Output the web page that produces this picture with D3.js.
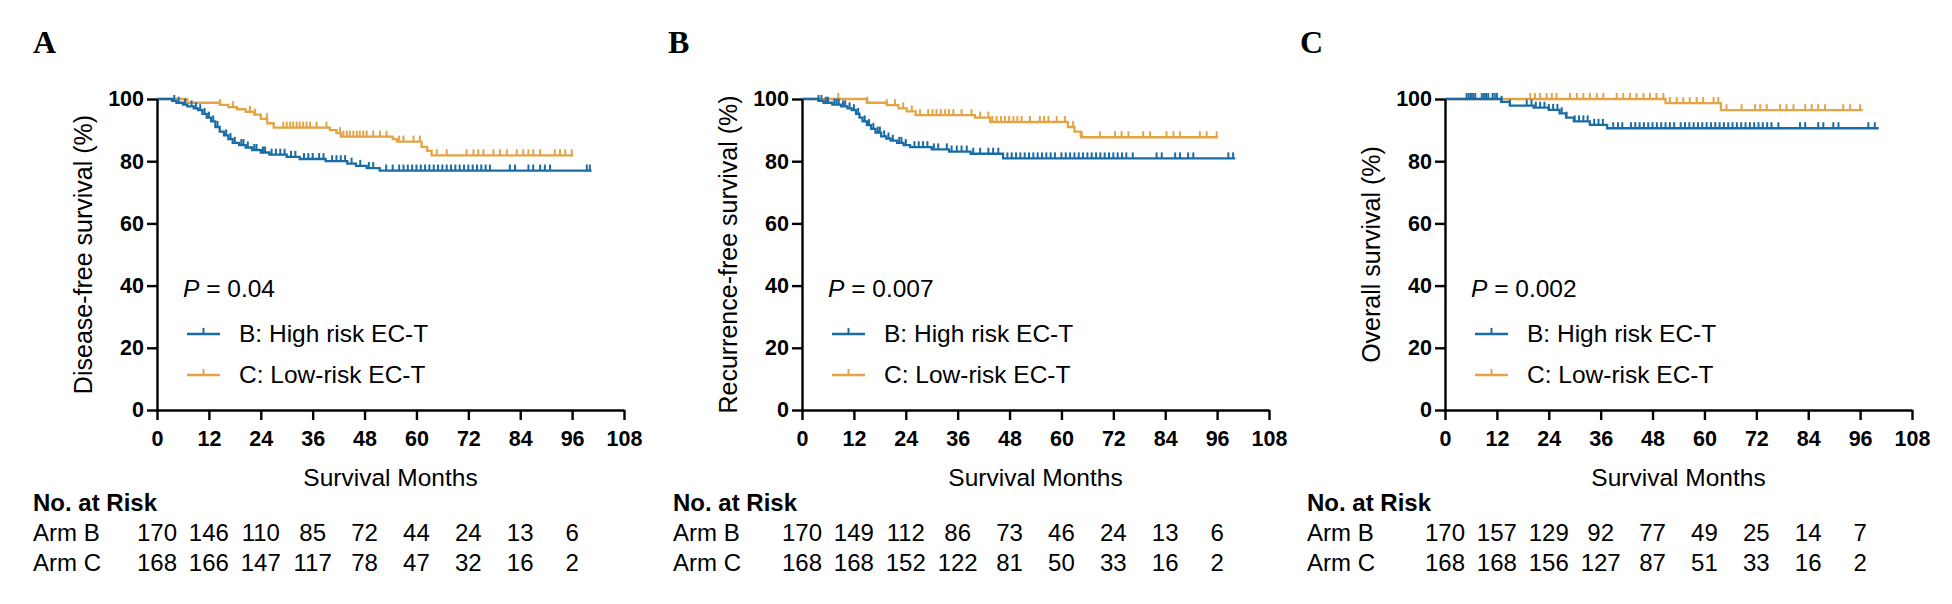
<!DOCTYPE html>
<html>
<head>
<meta charset="utf-8">
<script src="https://cdn.jsdelivr.net/npm/d3@7"></script>
<style>
  body { margin: 0; background: #ffffff; }
  svg { display: block; }
</style>
</head>
<body>
<svg id="chart" width="1952" height="604"></svg>
<script>
// ---------------- DATA ----------------
const panelLetters = ["A", "B", "C"];
const yTitles = ["Disease-free survival (%)", "Recurrence-free survival (%)", "Overall survival (%)"];
const pValues = ["0.04", "0.007", "0.002"];
const seriesNames = ["B: High risk EC-T", "C: Low-risk EC-T"];
const xTickMonths = [0, 12, 24, 36, 48, 60, 72, 84, 96, 108];
const yTickValues = [0, 20, 40, 60, 80, 100];
const xTitle = "Survival Months";
const riskTitle = "No. at Risk";
const riskRowLabels = ["Arm B", "Arm C"];
const riskMonths = [0, 12, 24, 36, 48, 60, 72, 84, 96];

// Panel A: disease-free survival
const dfsB_time = [0, 3.5, 4.5, 6, 7, 8.5, 9.5, 10.5, 11.5, 12.5, 13.5, 14.5, 15.5, 16.5, 17.5, 19, 20.5, 22, 24, 26, 30, 33, 39, 44, 46, 48.5, 51.5];
const dfsB_surv = [100, 99.4, 98.8, 98.2, 97.6, 97.0, 96.4, 95.2, 94.0, 92.8, 91.0, 89.5, 88.3, 87.1, 85.9, 85.2, 84.4, 83.6, 82.8, 82.1, 81.4, 80.7, 80.0, 79.2, 78.5, 77.8, 77.0];
const dfsB_end = 100.5;
const dfsB_cens = [4, 5, 6.5, 8, 9, 10, 11, 12, 13, 14, 16, 17, 18, 19.5, 20, 21, 22.5, 23, 24.5, 25, 26.5, 27.5, 28.5, 29.5, 31, 32, 34, 35, 36, 37.5, 38.5, 40.5, 41.5, 42.5, 43.5, 45, 47, 49, 50, 53, 54.5, 56, 57, 58, 59, 60, 61, 62, 63, 64, 65, 66, 67, 68, 69, 70, 71, 72, 73, 74, 75, 76, 77, 81.6, 82.8, 85.9, 87, 88.6, 89.7, 90.9, 99.4, 100.1];

const dfsC_time = [0, 7, 14.5, 16.5, 18.5, 20.5, 22.5, 24, 25.5, 27, 40, 41.5, 42.5, 54.5, 55.5, 61.2, 62.5, 63.5];
const dfsC_surv = [100, 98.8, 98.1, 97.4, 96.7, 95.9, 95.0, 93.6, 92.2, 90.8, 90.0, 89.0, 87.9, 87.1, 86.3, 84.6, 83.3, 81.9];
const dfsC_end = 96.3;
const dfsC_cens = [14.6, 17.6, 21.5, 22.7, 25.4, 29.2, 30, 30.8, 31.5, 32.3, 33, 33.8, 34.6, 35.4, 36.9, 39.2, 42.3, 43.1, 43.9, 44.6, 45.4, 46.2, 46.9, 47.7, 48.5, 50, 51.6, 53.1, 56, 57, 59.3, 60.8, 64.7, 67, 71.6, 73.2, 74.3, 75.5, 77.8, 79.3, 80.9, 83.2, 84.7, 85.9, 87, 88.6, 92, 93.2, 94.4, 95.9];

// Panel B: recurrence-free survival
const rfsB_time = [0, 3.8, 5, 7, 9, 10.5, 11.5, 12.5, 13.3, 14, 15, 16, 17, 18.3, 19.5, 20.5, 22, 23.5, 25, 30, 34, 39, 46.5];
const rfsB_surv = [100, 99.4, 98.8, 98.2, 97.6, 97.0, 96.4, 95.2, 94.0, 92.8, 91.6, 90.4, 89.2, 88.0, 87.3, 86.6, 85.9, 85.2, 84.5, 83.8, 83.1, 82.4, 80.9];
const rfsB_end = 100.2;
const rfsB_cens = [3.8, 4.5, 5.5, 6, 7.5, 8, 8.5, 9.5, 10, 11, 12, 13, 14.5, 15.5, 16.5, 17.5, 18, 19, 20, 21, 22.5, 23, 24, 26, 27, 28, 29, 30.5, 31.5, 33.5, 34.6, 35.8, 36.9, 38.1, 39.6, 41.2, 43.1, 44.2, 45.4, 47.5, 48.5, 49.5, 50.5, 51.5, 52.5, 53.5, 54.5, 55.5, 56.5, 57.5, 58.5, 60, 61, 62, 63, 64, 65, 66, 67, 68, 69, 70, 71, 72, 73, 74, 75, 76.5, 82, 83.2, 86.3, 87.4, 89.3, 90.5, 98.6, 99.7];

const rfsC_time = [0, 15, 19.6, 22.3, 24.2, 26.3, 40, 43.5, 61.5, 63, 64.5];
const rfsC_surv = [100, 98.8, 98.0, 97.0, 96.0, 94.8, 94.0, 92.6, 91.0, 89.5, 87.7];
const rfsC_end = 96.2;
const rfsC_cens = [8.4, 15.1, 19.6, 21.5, 23.4, 25.4, 27.3, 29.2, 30.2, 31.1, 32.1, 33.1, 34, 35, 36.9, 39.2, 41.2, 43.1, 44, 45, 46, 46.9, 47.9, 48.9, 49.8, 50.8, 52.7, 55, 56, 57, 58.9, 60.8, 62.7, 64.7, 68.9, 72.4, 73.9, 75.5, 78.9, 80.5, 84.3, 85.9, 87.4, 92, 93.6, 95.9];

// Panel C: overall survival
const osB_time = [0, 13, 15, 20.5, 24, 26.5, 28, 29.8, 33.5, 37.5];
const osB_surv = [100, 99.1, 97.9, 97.2, 96.5, 95.4, 94.0, 92.8, 91.7, 90.6];
const osB_end = 100.3;
const osB_cens = [5, 5.5, 6, 6.5, 7, 8.5, 9, 9.5, 10, 11, 11.5, 12, 13.1, 15, 18.9, 20, 21, 22, 23, 24, 25, 26, 27, 28.1, 30, 31, 32, 33, 34.5, 35.5, 36.5, 38.9, 40, 41, 43, 44, 45, 46, 47, 48, 49, 50, 51, 52, 53, 54.5, 55.5, 56.5, 57.5, 58.5, 59.5, 60.5, 61.5, 62.5, 63.5, 64.5, 65.5, 66.5, 67.5, 68.5, 69.5, 70.5, 71.5, 72.5, 73.5, 74.5, 75.5, 77.1, 82.1, 83.3, 86.3, 87.5, 89.8, 91, 97.9, 99.4];

const osC_time = [0, 51, 63.8];
const osC_surv = [100, 98.7, 96.4];
const osC_end = 96.6;
const osC_cens = [19.7, 20.8, 22, 23.5, 24.7, 25.8, 28.9, 30.5, 32, 33.5, 35.1, 36.6, 39.7, 41.2, 42.8, 44.3, 45.9, 47.4, 48.9, 50.5, 52, 53.6, 55.1, 56.6, 58.2, 59.7, 62.1, 63.2, 65.1, 68.6, 71.7, 72.9, 74.4, 77.5, 79, 80.6, 83.3, 84.8, 86.3, 87.9, 92.1, 93.7, 96];

// Numbers at risk
const dfsRiskB = [170, 146, 110, 85, 72, 44, 24, 13, 6];
const dfsRiskC = [168, 166, 147, 117, 78, 47, 32, 16, 2];
const rfsRiskB = [170, 149, 112, 86, 73, 46, 24, 13, 6];
const rfsRiskC = [168, 168, 152, 122, 81, 50, 33, 16, 2];
const osRiskB = [170, 157, 129, 92, 77, 49, 25, 14, 7];
const osRiskC = [168, 168, 156, 127, 87, 51, 33, 16, 2];

// ---------------- LAYOUT / STYLE ----------------
const colorB = "#1a6ca6";
const colorC = "#e3a446";
const sans = "'Liberation Sans', Arial, Helvetica, sans-serif";
const serif = "'Liberation Serif', 'Times New Roman', serif";

const plotW = 467, yTop = 99, yBot = 410;
const panels = [
  { axisX: 157, letterX: 33, tableX: 33,
    B: { time: dfsB_time, surv: dfsB_surv, end: dfsB_end, cens: dfsB_cens },
    C: { time: dfsC_time, surv: dfsC_surv, end: dfsC_end, cens: dfsC_cens },
    risk: [dfsRiskB, dfsRiskC] },
  { axisX: 802, letterX: 668, tableX: 673,
    B: { time: rfsB_time, surv: rfsB_surv, end: rfsB_end, cens: rfsB_cens },
    C: { time: rfsC_time, surv: rfsC_surv, end: rfsC_end, cens: rfsC_cens },
    risk: [rfsRiskB, rfsRiskC] },
  { axisX: 1445, letterX: 1300, tableX: 1307,
    B: { time: osB_time, surv: osB_surv, end: osB_end, cens: osB_cens },
    C: { time: osC_time, surv: osC_surv, end: osC_end, cens: osC_cens },
    risk: [osRiskB, osRiskC] }
];

const svg = d3.select("#chart");
svg.append("rect").attr("width", 1952).attr("height", 604).attr("fill", "#fff");

panels.forEach((p, pi) => {
  const g = svg.append("g");
  const x = d3.scaleLinear().domain([0, 108]).range([p.axisX, p.axisX + plotW]);
  const y = d3.scaleLinear().domain([0, 100]).range([yBot, yTop]);

  // panel letter
  g.append("text").attr("x", p.letterX).attr("y", 53)
    .attr("font-family", serif).attr("font-weight", "bold").attr("font-size", 32)
    .attr("fill", "#000").text(panelLetters[pi]);

  // curves (C first, then B on top)
  const line = d3.line().x(d => x(d[0])).y(d => y(d[1])).curve(d3.curveStepAfter);
  [["C", colorC], ["B", colorB]].forEach(([key, col]) => {
    const s = p[key];
    const pts = s.time.map((t, i) => [t, s.surv[i]]);
    pts.push([s.end, s.surv[s.surv.length - 1]]);
    g.append("path").attr("d", line(pts)).attr("fill", "none")
      .attr("stroke", col).attr("stroke-width", 2.3);
    const survAt = t => s.surv[Math.max(0, d3.bisectRight(s.time, t) - 1)];
    g.selectAll(null).data(s.cens).enter().append("line")
      .attr("x1", d => x(d)).attr("x2", d => x(d))
      .attr("y1", d => y(survAt(d)))
      .attr("y2", d => y(survAt(d)) - 6)
      .attr("stroke", col).attr("stroke-width", 2);
  });

  // axes
  const yAxis = d3.axisLeft(y).tickValues(yTickValues).tickSize(10).tickPadding(3).tickSizeOuter(0);
  const xAxis = d3.axisBottom(x).tickValues(xTickMonths).tickSize(10).tickPadding(11).tickSizeOuter(0);
  const ya = g.append("g").attr("transform", `translate(${p.axisX},0)`).call(yAxis);
  const xa = g.append("g").attr("transform", `translate(0,${yBot})`).call(xAxis);
  [ya, xa].forEach(a => {
    a.selectAll("path, line").attr("stroke", "#000").attr("stroke-width", 2.4);
    a.selectAll("text").attr("font-family", sans).attr("font-weight", "bold")
      .attr("font-size", 21.5).attr("fill", "#000");
  });

  // y title
  g.append("text")
    .attr("transform", `translate(${p.axisX - 74},${(yTop + yBot) / 2}) rotate(-90)`)
    .attr("text-anchor", "middle").attr("dy", "0.35em")
    .attr("font-family", sans).attr("font-size", 25).attr("fill", "#000")
    .text(yTitles[pi]);

  // x title
  g.append("text").attr("x", p.axisX + plotW / 2).attr("y", 486)
    .attr("text-anchor", "middle").attr("font-family", sans).attr("font-size", 24.5)
    .attr("fill", "#000").text(xTitle);

  // P value
  const pt = g.append("text").attr("x", p.axisX + 26).attr("y", 297)
    .attr("font-family", sans).attr("font-size", 24.5).attr("fill", "#000");
  pt.append("tspan").attr("font-style", "italic").text("P");
  pt.append("tspan").text(" = " + pValues[pi]);

  // legend
  [[colorB, 334], [colorC, 375]].forEach(([col, ly], i) => {
    g.append("line").attr("x1", p.axisX + 30).attr("x2", p.axisX + 63)
      .attr("y1", ly).attr("y2", ly).attr("stroke", col).attr("stroke-width", 2.3);
    g.append("line").attr("x1", p.axisX + 46.5).attr("x2", p.axisX + 46.5)
      .attr("y1", ly).attr("y2", ly - 6).attr("stroke", col).attr("stroke-width", 2);
    g.append("text").attr("x", p.axisX + 82).attr("y", ly + 8)
      .attr("font-family", sans).attr("font-size", 24.5).attr("fill", "#000")
      .text(seriesNames[i]);
  });

  // risk table
  g.append("text").attr("x", p.tableX).attr("y", 511)
    .attr("font-family", sans).attr("font-weight", "bold").attr("font-size", 24)
    .attr("fill", "#000").text(riskTitle);
  [541, 571].forEach((ry, ri) => {
    g.append("text").attr("x", p.tableX).attr("y", ry)
      .attr("font-family", sans).attr("font-size", 24).attr("fill", "#000")
      .text(riskRowLabels[ri]);
    g.selectAll(null).data(p.risk[ri]).enter().append("text")
      .attr("x", (d, i) => x(riskMonths[i])).attr("y", ry)
      .attr("text-anchor", "middle")
      .attr("font-family", sans).attr("font-size", 24).attr("fill", "#000")
      .text(d => d);
  });
});
</script>
</body>
</html>
